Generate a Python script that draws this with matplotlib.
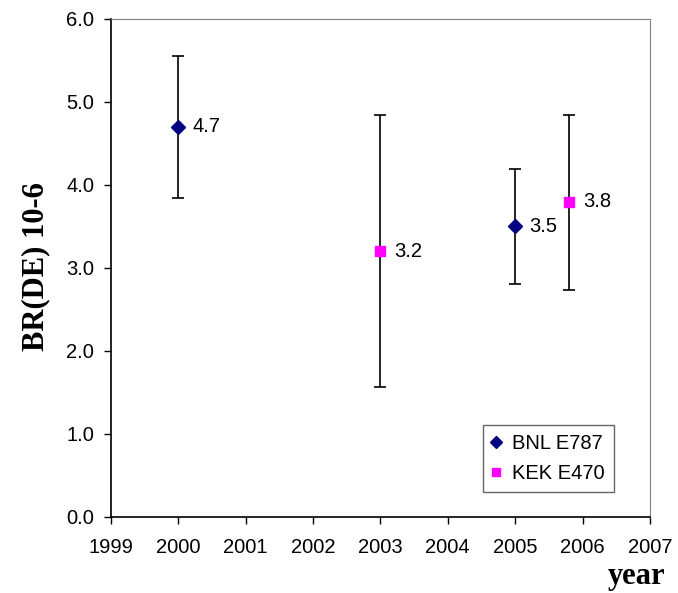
import numpy as np
import matplotlib.pyplot as plt

# measurements: branching ratio of the DE component (x 10^-6)
bnl_year = [2000.0, 2005.0]
bnl_br = [4.7, 3.5]
bnl_err_lo = [0.86, 0.69]
bnl_err_hi = [0.85, 0.69]

kek_year = [2003.0, 2005.8]
kek_br = [3.2, 3.8]
kek_err_lo = [1.63, 1.07]
kek_err_hi = [1.64, 1.04]

year_ticks = np.arange(1999, 2008)
br_ticks = np.arange(0.0, 6.5, 1.0)

plt.rcParams['font.family'] = ['Liberation Sans', 'DejaVu Sans']
fs = 14.5

fig = plt.figure(figsize=(6.78, 5.93), dpi=100)
sub = fig.add_axes([0.1633, 0.1282, 0.7954, 0.8398])

sub.errorbar(bnl_year, bnl_br, yerr=[bnl_err_lo, bnl_err_hi], fmt='D',
             ms=7, mfc='#000080', mec='#000080', ecolor='black',
             elinewidth=1.2, capsize=4.5, capthick=1.2, label='BNL E787')
sub.errorbar(kek_year, kek_br, yerr=[kek_err_lo, kek_err_hi], fmt='s',
             ms=6.5, mfc='#ff00ff', mec='#ff00ff', ecolor='black',
             elinewidth=1.2, capsize=4.5, capthick=1.2, label='KEK E470')

for x, y in zip(bnl_year + kek_year, bnl_br + kek_br):
    sub.annotate('%.1f' % y, (x, y), xytext=(10, 0), textcoords='offset points',
                 ha='left', va='center', fontsize=fs)

# axes
sub.set_xlim(1999, 2007)
sub.set_xticks(year_ticks)
sub.set_xticklabels([str(y) for y in year_ticks], fontsize=fs)
sub.set_ylim(0.0, 6.0)
sub.set_yticks(br_ticks)
sub.set_yticklabels(['%.1f' % v for v in br_ticks], fontsize=fs)
sub.tick_params(direction='out', length=5, width=1.0)
sub.tick_params(axis='x', pad=10)
sub.tick_params(axis='y', pad=7)
sub.spines['top'].set_color('#808080')
sub.spines['right'].set_color('#808080')
for s in ['left', 'bottom']:
    sub.spines[s].set_linewidth(1.2)

handles, labels = sub.get_legend_handles_labels()
handles = [h[0] for h in handles]
leg = sub.legend(handles, labels, loc='lower right', bbox_to_anchor=(0.933, 0.05),
                 borderaxespad=0.0, fontsize=fs, frameon=True, fancybox=False,
                 handlelength=0.4, handletextpad=0.6, borderpad=0.45,
                 labelspacing=0.55, markerscale=0.85)
leg.get_frame().set_edgecolor('#404040')
leg.get_frame().set_linewidth(1.0)

fig.text(0.053, 0.551, 'BR(DE) 10-6', rotation=90, ha='center', va='center',
         fontsize=22, fontweight='bold', family='Liberation Serif')
fig.text(0.981, 0.016, 'year', ha='right', va='baseline',
         fontsize=22, fontweight='bold', family='Liberation Serif')

fig.savefig('out.png', dpi=100)
plt.close()
